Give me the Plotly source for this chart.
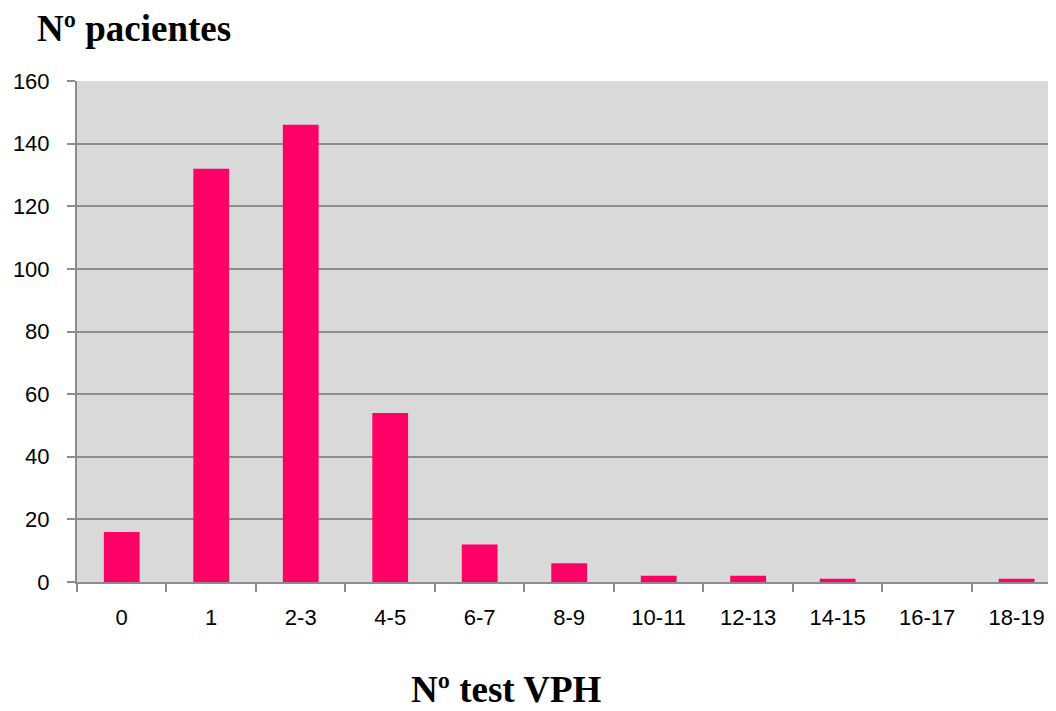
import plotly.graph_objects as go

categories = ["0", "1", "2-3", "4-5", "6-7", "8-9", "10-11", "12-13", "14-15", "16-17", "18-19"]
patients = [16, 132, 146, 54, 12, 6, 2, 2, 1, 0, 1]
y_ticks = [0, 20, 40, 60, 80, 100, 120, 140, 160]

fig = go.Figure()
fig.add_trace(go.Bar(x=categories, y=patients, marker=dict(color="#FF0066", line=dict(width=0)), width=0.4))

# page has an 8px body margin, so the figure is sized/offset accordingly
W, H = 1048, 703
L, R, T, B = 69, 0, 73, 129
PW, PH = W - L - R, H - T - B
fig.update_layout(
    width=W, height=H,
    margin=dict(l=L, r=R, t=T, b=B, pad=0),
    paper_bgcolor="white",
    plot_bgcolor="#D9D9D9",
    showlegend=False,
    font=dict(family="Liberation Sans, Arial", size=22, color="black"),
)
fig.update_xaxes(
    type="category", range=[-0.5, 10.44],
    showline=True, linecolor="#8C8C8C", linewidth=2,
    ticks="outside", tickson="boundaries", ticklen=8, tickwidth=2, tickcolor="#8C8C8C",
    showgrid=False, tickfont=dict(size=22), ticklabelstandoff=15,
)
fig.update_yaxes(
    range=[0, 160], tickvals=y_ticks,
    showline=True, linecolor="#8C8C8C", linewidth=2,
    ticks="outside", ticklen=8, tickwidth=2, tickcolor="#8C8C8C",
    showgrid=True, gridcolor="#8C8C8C", gridwidth=1.5,
    zeroline=False, tickfont=dict(size=22), ticklabelstandoff=13,
)
fig.add_annotation(text="<b>Nº pacientes</b>", xref="paper", yref="paper",
                   x=(27 - L) / PW, y=1 + (T - 20) / PH,
                   xanchor="left", yanchor="middle", showarrow=False,
                   font=dict(family="Liberation Serif, Times New Roman", size=37, color="black"))
fig.add_annotation(text="<b>Nº test VPH</b>", xref="paper", yref="paper",
                   x=(498 - L) / PW, y=-(681 - (H - B)) / PH,
                   xanchor="center", yanchor="middle", showarrow=False,
                   font=dict(family="Liberation Serif, Times New Roman", size=37, color="black"))
fig.write_html("out.html")
